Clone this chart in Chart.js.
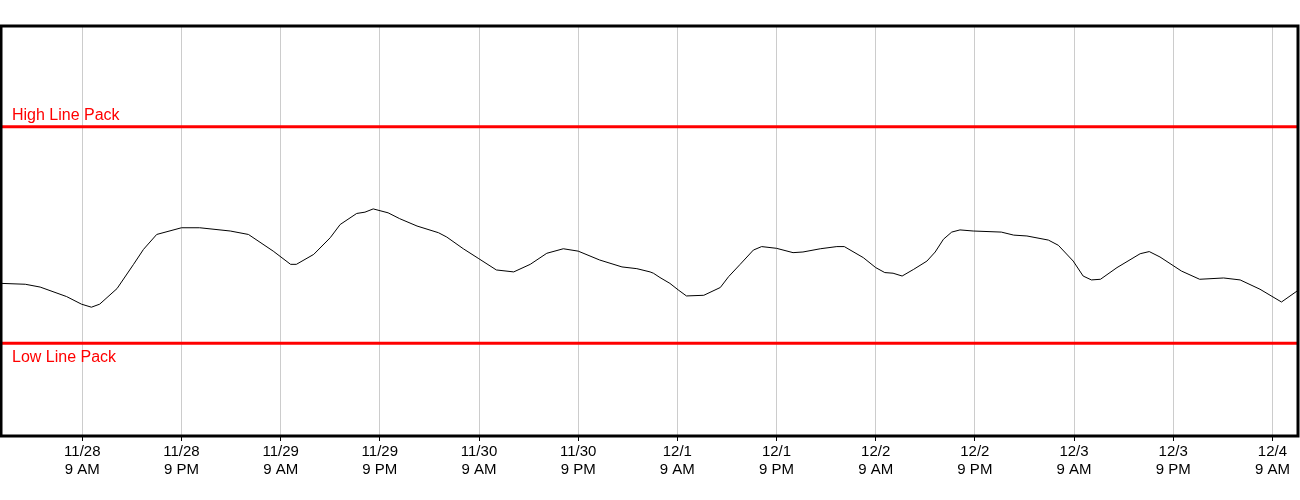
<!DOCTYPE html>
<html>
<head>
<meta charset="utf-8">
<script src="https://cdn.jsdelivr.net/npm/chart.js@4"></script>
<style>
    html, body { margin: 0; padding: 0; background: #fff; }
    canvas { display: block; }
</style>
</head>
<body>
<canvas id="linePackChart" width="1300" height="500"></canvas>
<script>
// hours since 11/28 00:00
const hours = [
    -0.8, 2.1, 3.9, 7.1, 8.9, 10.1, 11.1, 13.2, 15.2, 16.4, 18.0, 21.0, 23.2, 26.9, 29.1,
    32.1, 34.2, 34.9, 37.0, 39.0, 40.2, 42.2, 43.2, 44.2, 46.0, 47.4, 49.5, 52.1, 53.1,
    55.1, 56.9, 59.1, 61.2, 63.2, 65.2, 67.2, 69.0, 71.6, 74.3, 76.1, 77.7, 78.1, 78.9,
    80.1, 81.1, 82.1, 84.2, 86.2, 87.2, 88.6, 90.2, 91.2, 93.0, 95.0, 96.2, 98.3, 100.3,
    101.2, 103.5, 105.0, 106.1, 107.1, 108.2, 109.6, 111.2, 112.2, 113.2, 114.2, 115.2,
    116.8, 120.2, 121.7, 123.3, 125.9, 127.1, 128.9, 130.1, 131.1, 132.2, 134.2, 137.0,
    138.1, 139.4, 142.0, 144.2, 147.1, 149.1, 151.5, 154.1, 156.0
];
const linePack = [
    327.6, 327.2, 325.9, 321.5, 318.0, 316.6, 318.0, 325.2, 336.4, 343.3, 350.2, 353.3, 353.3, 351.8, 350.2,
    342.5, 336.4, 336.4, 341.0, 348.7, 354.8, 359.9, 360.5, 362.0, 360.2, 357.5, 354.1, 351.0, 349.0,
    343.6, 339.2, 333.8, 332.9, 336.4, 341.5, 343.6, 342.5, 338.4, 335.2, 334.4, 332.9, 332.3, 330.3,
    327.6, 324.6, 321.8, 322.1, 325.7, 330.7, 336.4, 343.0, 344.6, 343.8, 341.8, 342.1, 343.6, 344.6,
    344.6, 339.5, 334.9, 332.6, 332.3, 331.0, 334.1, 337.9, 342.1, 348.0, 351.3, 352.3,
    351.8, 351.3, 349.9, 349.5, 347.6, 345.2, 337.9, 331.0, 329.2, 329.5, 334.9, 341.3,
    342.3, 339.8, 333.3, 329.5, 330.1, 329.2, 324.9, 319.0, 324.1
];
const highLinePack = 400;
const lowLinePack = 300;

const tickHours = [9, 21, 33, 45, 57, 69, 81, 93, 105, 117, 129, 141, 153];
const tickDates = ['11/28', '11/28', '11/29', '11/29', '11/30', '11/30', '12/1', '12/1', '12/2', '12/2', '12/3', '12/3', '12/4'];
const tickTimes = ['9 AM', '9 PM', '9 AM', '9 PM', '9 AM', '9 PM', '9 AM', '9 PM', '9 AM', '9 PM', '9 AM', '9 PM', '9 AM'];

const xMin = -0.84;
const xMax = 156.1;

const frame = {
    id: 'frame',
    afterDatasetsDraw(chart) {
        const { ctx, chartArea, scales } = chart;
        ctx.save();
        // limit labels
        ctx.fillStyle = '#ff0000';
        ctx.font = '16px "Liberation Sans", Arial, sans-serif';
        ctx.textAlign = 'left';
        ctx.textBaseline = 'alphabetic';
        ctx.fillText('High Line Pack', chartArea.left + 11, scales.y.getPixelForValue(highLinePack) - 7);
        ctx.textBaseline = 'top';
        ctx.fillText('Low Line Pack', chartArea.left + 11, scales.y.getPixelForValue(lowLinePack) + 6);
        ctx.restore();
    },
    afterDraw(chart) {
        const { ctx, chartArea } = chart;
        ctx.save();
        ctx.strokeStyle = '#000';
        ctx.lineWidth = 3;
        ctx.strokeRect(chartArea.left, chartArea.top, chartArea.right - chartArea.left, chartArea.bottom - chartArea.top);
        ctx.restore();
    }
};

const ctx = document.getElementById('linePackChart').getContext('2d');
new Chart(ctx, {
    type: 'line',
    data: {
        datasets: [
            {
                label: 'Line Pack',
                data: hours.map((h, i) => ({ x: h, y: linePack[i] })),
                borderColor: '#000',
                borderWidth: 1,
                pointRadius: 0,
                tension: 0
            },
            {
                label: 'High Line Pack',
                data: [{ x: xMin, y: highLinePack }, { x: xMax, y: highLinePack }],
                borderColor: '#ff0000',
                borderWidth: 3,
                pointRadius: 0
            },
            {
                label: 'Low Line Pack',
                data: [{ x: xMin, y: lowLinePack }, { x: xMax, y: lowLinePack }],
                borderColor: '#ff0000',
                borderWidth: 3,
                pointRadius: 0
            }
        ]
    },
    options: {
        responsive: false,
        animation: false,
        layout: {
            padding: { top: 26, left: 1, right: 2, bottom: 19 }
        },
        plugins: {
            legend: { display: false },
            tooltip: { enabled: false }
        },
        scales: {
            x: {
                type: 'linear',
                min: xMin,
                max: xMax,
                afterBuildTicks: (scale) => {
                    scale.ticks = tickHours.map(v => ({ value: v }));
                },
                grid: {
                    color: '#cccccc',
                    lineWidth: 1,
                    tickColor: '#000',
                    tickLength: 5
                },
                border: { display: false },
                ticks: {
                    autoSkip: false,
                    maxRotation: 0,
                    padding: 2,
                    color: '#000',
                    font: { family: '"Liberation Sans", Arial, sans-serif', size: 15, lineHeight: 1.2 },
                    callback: (value, index) => [tickDates[index], tickTimes[index]]
                }
            },
            y: {
                display: false,
                min: 257.1,
                max: 446.5
            }
        }
    },
    plugins: [frame]
});
</script>
</body>
</html>
